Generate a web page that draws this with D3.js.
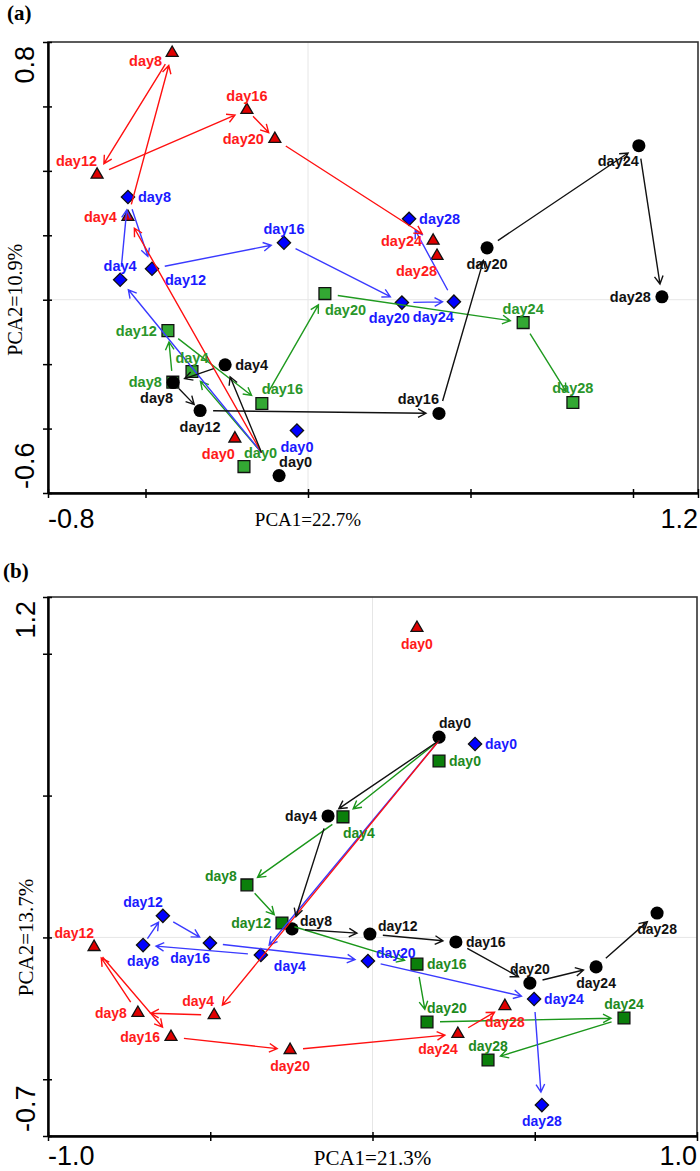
<!DOCTYPE html>
<html>
<head>
<meta charset="utf-8">
<script src="https://cdn.jsdelivr.net/npm/d3@7"></script>
<style>
body { margin: 0; background: #fff; }
text.lab { font-family: 'Liberation Sans', Arial, sans-serif; font-weight: bold; }
text.tk { font-family: 'Liberation Sans', Arial, sans-serif; }
text.ttl { font-family: 'Liberation Serif', 'Times New Roman', serif; }
</style>
</head>
<body>
<svg id="chart" width="700" height="1171"></svg>
<script>
var days = [0, 4, 8, 12, 16, 20, 24, 28];

// panel (a) PCA scores, [PCA1, PCA2] for day0..day28
var aBlack = [[-0.089, -0.546], [-0.255, -0.202], [-0.415, -0.257], [-0.332, -0.344], [0.403, -0.353], [0.551, 0.161], [1.018, 0.478], [1.089, 0.009]];
var aRed   = [[-0.225, -0.431], [-0.554, 0.257], [-0.418, 0.766], [-0.649, 0.388], [-0.188, 0.589], [-0.102, 0.499], [0.385, 0.183], [0.397, 0.136]];
var aBlue  = [[-0.034, -0.406], [-0.578, 0.062], [-0.554, 0.319], [-0.480, 0.096], [-0.074, 0.177], [0.289, -0.009], [0.449, -0.006], [0.311, 0.251]];
var aGreen = [[-0.197, -0.518], [-0.357, -0.223], [-0.416, -0.256], [-0.431, -0.096], [-0.142, -0.322], [0.052, 0.019], [0.662, -0.071], [0.815, -0.319]];

// panel (b) PCA scores
var bBlack = [[0.205, 0.706], [-0.137, 0.428], [-0.248, 0.030], [-0.008, 0.012], [0.257, -0.016], [0.485, -0.161], [0.689, -0.104], [0.877, 0.086]];
var bRed   = [[0.137, 1.091], [-0.488, -0.274], [-0.723, -0.266], [-0.858, -0.034], [-0.621, -0.351], [-0.254, -0.397], [0.263, -0.340], [0.408, -0.242]];
var bBlue  = [[0.316, 0.682], [-0.344, -0.062], [-0.707, -0.027], [-0.646, 0.076], [-0.501, -0.020], [-0.014, -0.083], [0.498, -0.217], [0.522, -0.591]];
var bGreen = [[0.205, 0.622], [-0.091, 0.425], [-0.387, 0.185], [-0.279, 0.051], [0.137, -0.094], [0.168, -0.298], [0.775, -0.284], [0.356, -0.432]];

// where each day label sits relative to its point
var aBlackPos = ['tr', 'r', 'bl', 'b', 'tl', 'b', 'bl', 'l'];
var aRedPos   = ['bl', 'l', 'lb', 'tl', 't', 'l', 'l', 'bl'];
var aBluePos  = ['b', 't', 'r', 'rb', 't', 'bw', 'bl', 'r'];
var aGreenPos = ['tr', 't', 'l', 'l', 'tr', 'br', 't', 't'];
var bBlackPos = ['tr', 'l', 'rt', 'rt', 'r', 't', 'b', 'b'];
var bRedPos   = ['b', 'tl', 'l', 'tl', 'l', 'b', 'bl', 'b'];
var bBluePos  = ['r', 'rb', 'b', 'tl', 'bl', 'rt', 'r', 'b'];
var bGreenPos = ['r', 'br', 'lt', 'l', 'r', 'tr', 't', 't'];

var labelOffsets = {
	r:  [10, 5, 'start'],
	l:  [-11, 5, 'end'],
	t:  [0, -9, 'middle'],
	b:  [0, 21, 'middle'],
	tr: [0, -9, 'start'],
	tl: [0, -9, 'end'],
	br: [0, 21, 'start'],
	bl: [0, 20, 'end'],
	bw: [8, 20, 'end'],
	rb: [13, 16, 'start'],
	rt: [8, -3, 'start'],
	lb: [-10, 13, 'end'],
	lt: [-10, -4, 'end']
};

var svg = d3.select('#chart');

function drawArrow(g, x0, y0, x1, y1, color, gap0, gap1) {
	var dx = x1 - x0, dy = y1 - y0;
	var len = Math.sqrt(dx * dx + dy * dy);
	var ux = dx / len, uy = dy / len;
	var sx = x0 + ux * gap0, sy = y0 + uy * gap0;
	var ex = x1 - ux * gap1, ey = y1 - uy * gap1;
	var ang = Math.atan2(ey - sy, ex - sx);
	var hl = 9, ha = 0.5;
	var p = d3.path();
	p.moveTo(sx, sy);
	p.lineTo(ex, ey);
	p.moveTo(ex - hl * Math.cos(ang - ha), ey - hl * Math.sin(ang - ha));
	p.lineTo(ex, ey);
	p.lineTo(ex - hl * Math.cos(ang + ha), ey - hl * Math.sin(ang + ha));
	g.append('path')
		.attr('d', p.toString())
		.attr('fill', 'none')
		.attr('stroke', color)
		.attr('stroke-width', 1.4);
}

function drawPanel(cfg) {
	var x = d3.scaleLinear().domain(cfg.xDomain).range([cfg.left, cfg.right]);
	var y = d3.scaleLinear().domain(cfg.yDomain).range([cfg.bottom, cfg.top]);
	var g = svg.append('g');

	//light grid through the origin
	g.append('line')
		.attr('x1', x(0)).attr('x2', x(0))
		.attr('y1', cfg.top).attr('y2', cfg.bottom)
		.attr('stroke', '#e6e6e6');
	g.append('line')
		.attr('x1', cfg.left).attr('x2', cfg.right)
		.attr('y1', y(0)).attr('y2', y(0))
		.attr('stroke', '#e6e6e6');

	//box
	g.append('rect')
		.attr('x', cfg.left).attr('y', cfg.top)
		.attr('width', cfg.right - cfg.left)
		.attr('height', cfg.bottom - cfg.top)
		.attr('fill', 'none')
		.attr('stroke', '#333')
		.attr('stroke-width', 1.6);

	//axes, ticks cross the axis line
	g.append('g')
		.attr('transform', 'translate(0,' + cfg.bottom + ')')
		.call(d3.axisBottom(x).tickValues(cfg.xTicks).tickSize(5).tickSizeOuter(0).tickFormat(''))
		.call(function(a) {
			a.select('.domain').attr('stroke-width', 2.4);
			a.selectAll('.tick line').attr('y1', -4).attr('stroke-width', 1.5);
		});
	g.append('g')
		.attr('transform', 'translate(' + cfg.left + ',0)')
		.call(d3.axisLeft(y).tickValues(cfg.yTicks).tickSize(5).tickSizeOuter(0).tickFormat(''))
		.call(function(a) {
			a.select('.domain').attr('stroke-width', 2.4);
			a.selectAll('.tick line').attr('x1', 4).attr('stroke-width', 1.5);
		});

	//end labels only
	g.append('text').attr('class', 'tk')
		.attr('x', x(cfg.xDomain[0])).attr('y', cfg.xLabBase)
		.attr('font-size', 27).attr('text-anchor', 'start')
		.text(cfg.xDomain[0].toFixed(1));
	g.append('text').attr('class', 'tk')
		.attr('x', x(cfg.xDomain[1])).attr('y', cfg.xLabBase)
		.attr('font-size', 27).attr('text-anchor', 'end')
		.text(cfg.xDomain[1].toFixed(1));
	g.append('text').attr('class', 'tk')
		.attr('transform', 'translate(' + cfg.yLabX + ',' + (y(cfg.yDomain[1]) + 4) + ') rotate(-90)')
		.attr('font-size', 27).attr('text-anchor', 'end')
		.text(cfg.yDomain[1].toFixed(1));
	g.append('text').attr('class', 'tk')
		.attr('transform', 'translate(' + cfg.yLabX + ',' + (y(cfg.yDomain[0]) - 4) + ') rotate(-90)')
		.attr('font-size', 27).attr('text-anchor', 'start')
		.text(cfg.yDomain[0].toFixed(1));

	//axis titles
	g.append('text').attr('class', 'ttl')
		.attr('x', x(0)).attr('y', cfg.xTitleBase)
		.attr('font-size', cfg.xTitleSize).attr('text-anchor', 'middle')
		.text(cfg.xTitle);
	g.append('text').attr('class', 'ttl')
		.attr('transform', 'translate(' + cfg.yTitleX + ',' + y(0) + ') rotate(-90)')
		.attr('font-size', cfg.yTitleSize).attr('text-anchor', 'middle')
		.text(cfg.yTitle);

	g.append('text').attr('class', 'ttl')
		.attr('x', cfg.tagX).attr('y', cfg.tagY)
		.attr('font-size', 21).attr('font-weight', 'bold')
		.text(cfg.tag);

	//markers
	var sym = {
		circle: d3.symbol().type(d3.symbolCircle).size(135),
		square: d3.symbol().type(d3.symbolSquare).size(140),
		diamond: d3.symbol().type(d3.symbolSquare).size(88),
		triangle: d3.symbol().type(d3.symbolTriangle).size(62)
	};
	cfg.series.forEach(function(s) {
		g.selectAll(null).data(s.data).enter().append('path')
			.attr('d', sym[s.shape]())
			.attr('transform', function(d) {
				var t = 'translate(' + x(d[0]) + ',' + y(d[1]) + ')';
				return s.shape === 'diamond' ? t + ' rotate(45)' : t;
			})
			.attr('fill', s.fill)
			.attr('stroke', s.shape === 'circle' ? 'none' : '#111')
			.attr('stroke-width', 1.3);
	});

	//arrows; day0 arrows leave from the shared centre of the day0 points
	var ox = d3.median(cfg.series, function(s) { return x(s.data[0][0]); });
	var oy = d3.median(cfg.series, function(s) { return y(s.data[0][1]); });
	cfg.series.forEach(function(s) {
		for (var i = 0; i < s.data.length - 1; i++) {
			var x0 = i === 0 ? ox : x(s.data[i][0]);
			var y0 = i === 0 ? oy : y(s.data[i][1]);
			var x1 = x(s.data[i + 1][0]), y1 = y(s.data[i + 1][1]);
			var dist = Math.sqrt((x1 - x0) * (x1 - x0) + (y1 - y0) * (y1 - y0));
			if (dist < 25) continue;
			var gap = Math.min(13, dist * 0.22);
			drawArrow(g, x0, y0, x1, y1, s.line, i === 0 ? 0 : gap, gap);
		}
	});

	//day labels
	cfg.series.forEach(function(s) {
		g.selectAll(null).data(s.data).enter().append('text')
			.attr('class', 'lab')
			.attr('font-size', cfg.labSize)
			.attr('fill', s.text)
			.attr('x', function(d, i) { return x(d[0]) + labelOffsets[s.pos[i]][0]; })
			.attr('y', function(d, i) { return y(d[1]) + labelOffsets[s.pos[i]][1]; })
			.attr('text-anchor', function(d, i) { return labelOffsets[s.pos[i]][2]; })
			.text(function(d, i) { return 'day' + days[i]; });
	});
}

drawPanel({
	left: 48, right: 698, top: 42, bottom: 493,
	xDomain: [-0.8, 1.2], yDomain: [-0.6, 0.8],
	xTicks: [-0.8, -0.5, 0, 0.5, 1.0, 1.2],
	yTicks: [-0.6, -0.4, -0.2, 0, 0.2, 0.4, 0.6, 0.8],
	xLabBase: 528, yLabX: 34,
	xTitle: 'PCA1=22.7%', xTitleBase: 526, xTitleSize: 19,
	yTitle: 'PCA2=10.9%', yTitleX: 22, yTitleSize: 20,
	tag: '(a)', tagX: 7, tagY: 20,
	labSize: 14.5,
	series: [
		{data: aGreen, pos: aGreenPos, shape: 'square', fill: '#33a833', line: '#1f9a1f', text: '#2a962a'},
		{data: aBlue, pos: aBluePos, shape: 'diamond', fill: '#0000ff', line: '#3a3aff', text: '#1a1aff'},
		{data: aRed, pos: aRedPos, shape: 'triangle', fill: '#e00000', line: '#ff1010', text: '#ff1a1a'},
		{data: aBlack, pos: aBlackPos, shape: 'circle', fill: '#000', line: '#111', text: '#111'}
	]
});

drawPanel({
	left: 48, right: 697, top: 597, bottom: 1136,
	xDomain: [-1.0, 1.0], yDomain: [-0.7, 1.2],
	xTicks: [-1.0, -0.5, 0, 0.5, 1.0],
	yTicks: [-0.7, -0.5, 0, 0.5, 1.0, 1.2],
	xLabBase: 1165, yLabX: 35,
	xTitle: 'PCA1=21.3%', xTitleBase: 1165, xTitleSize: 21,
	yTitle: 'PCA2=13.7%', yTitleX: 33, yTitleSize: 21,
	tag: '(b)', tagX: 3, tagY: 578,
	labSize: 14,
	series: [
		{data: bGreen, pos: bGreenPos, shape: 'square', fill: '#0b7f0b', line: '#1a961a', text: '#1e8a1e'},
		{data: bBlue, pos: bBluePos, shape: 'diamond', fill: '#0000ff', line: '#3a3aff', text: '#1a1aff'},
		{data: bRed, pos: bRedPos, shape: 'triangle', fill: '#e00000', line: '#ff1010', text: '#ff1a1a'},
		{data: bBlack, pos: bBlackPos, shape: 'circle', fill: '#000', line: '#111', text: '#111'}
	]
});
</script>
</body>
</html>
